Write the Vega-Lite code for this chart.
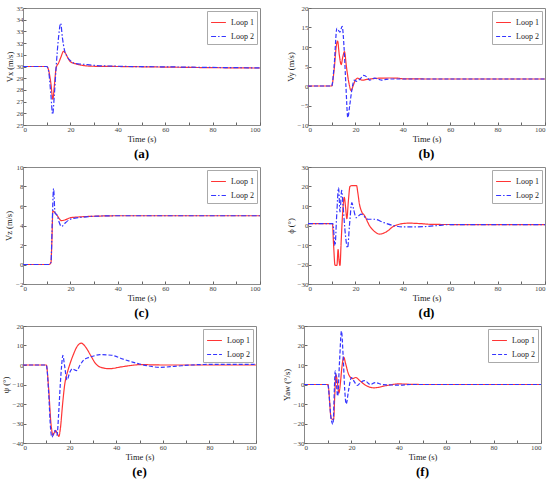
{
  "$schema": "https://vega.github.io/schema/vega-lite/v6.json",
  "padding": {"left": 0, "right": 6, "top": 3, "bottom": 0},
  "config": {
    "font": "Liberation Serif",
    "view": {"stroke": "#888", "strokeWidth": 1},
    "axis": {
      "grid": false,
      "labelFontSize": 7,
      "labelColor": "#444",
      "titleFontSize": 8.5,
      "titleFontWeight": "normal",
      "titleColor": "#222",
      "tickColor": "#666",
      "tickSize": -3,
      "domainColor": "#888",
      "labelPadding": 3,
      "titlePadding": 2
    },
    "legend": {
      "orient": "top-right",
      "offset": 3,
      "strokeColor": "#aaa",
      "padding": 3,
      "labelFontSize": 8,
      "labelColor": "#222",
      "symbolType": "stroke",
      "symbolSize": 220,
      "symbolStrokeWidth": 1.5,
      "rowPadding": 1,
      "fillColor": "white"
    },
    "title": {"orient": "bottom", "fontSize": 13, "fontWeight": "bold", "offset": 5, "color": "#000"},
    "line": {"strokeWidth": 1.2, "interpolate": "monotone"}
  },
  "datasets": {
    "a": [
      {"s": "Loop 1", "t": 0, "v": 30}, {"s": "Loop 1", "t": 10, "v": 30}, {"s": "Loop 1", "t": 10.8, "v": 29.7}, {"s": "Loop 1", "t": 11.8, "v": 28.5}, {"s": "Loop 1", "t": 12.6, "v": 27.2}, {"s": "Loop 1", "t": 13.2, "v": 28.3}, {"s": "Loop 1", "t": 14, "v": 29.9}, {"s": "Loop 1", "t": 15, "v": 30.3}, {"s": "Loop 1", "t": 16, "v": 30.8}, {"s": "Loop 1", "t": 17.1, "v": 31.3}, {"s": "Loop 1", "t": 18, "v": 31.1}, {"s": "Loop 1", "t": 19, "v": 30.7}, {"s": "Loop 1", "t": 20, "v": 30.4}, {"s": "Loop 1", "t": 22, "v": 30.25}, {"s": "Loop 1", "t": 25, "v": 30.1}, {"s": "Loop 1", "t": 30, "v": 30.02}, {"s": "Loop 1", "t": 40, "v": 30}, {"s": "Loop 1", "t": 60, "v": 29.95}, {"s": "Loop 1", "t": 80, "v": 29.9}, {"s": "Loop 1", "t": 100, "v": 29.87},
      {"s": "Loop 2", "t": 0, "v": 30}, {"s": "Loop 2", "t": 10, "v": 30}, {"s": "Loop 2", "t": 10.8, "v": 29.6}, {"s": "Loop 2", "t": 11.8, "v": 27.5}, {"s": "Loop 2", "t": 12.5, "v": 25.9}, {"s": "Loop 2", "t": 13.2, "v": 27.5}, {"s": "Loop 2", "t": 14, "v": 30}, {"s": "Loop 2", "t": 15, "v": 32.5}, {"s": "Loop 2", "t": 15.9, "v": 33.7}, {"s": "Loop 2", "t": 16.6, "v": 32.5}, {"s": "Loop 2", "t": 17.5, "v": 31.4}, {"s": "Loop 2", "t": 18.5, "v": 30.9}, {"s": "Loop 2", "t": 20, "v": 30.5}, {"s": "Loop 2", "t": 22, "v": 30.25}, {"s": "Loop 2", "t": 25, "v": 30.2}, {"s": "Loop 2", "t": 30, "v": 30.1}, {"s": "Loop 2", "t": 40, "v": 30.02}, {"s": "Loop 2", "t": 60, "v": 29.97}, {"s": "Loop 2", "t": 80, "v": 29.92}, {"s": "Loop 2", "t": 100, "v": 29.88}
    ],
    "b": [
      {"s": "Loop 1", "t": 0, "v": 0}, {"s": "Loop 1", "t": 10, "v": 0}, {"s": "Loop 1", "t": 11, "v": 4}, {"s": "Loop 1", "t": 12, "v": 10.5}, {"s": "Loop 1", "t": 12.5, "v": 11.5}, {"s": "Loop 1", "t": 13.2, "v": 8}, {"s": "Loop 1", "t": 14, "v": 5.5}, {"s": "Loop 1", "t": 14.7, "v": 7.5}, {"s": "Loop 1", "t": 15.4, "v": 8.8}, {"s": "Loop 1", "t": 16.2, "v": 5}, {"s": "Loop 1", "t": 17.2, "v": 1}, {"s": "Loop 1", "t": 18.2, "v": -1.2}, {"s": "Loop 1", "t": 19, "v": 0}, {"s": "Loop 1", "t": 20, "v": 1.5}, {"s": "Loop 1", "t": 21, "v": 2}, {"s": "Loop 1", "t": 22, "v": 1.7}, {"s": "Loop 1", "t": 23, "v": 1.5}, {"s": "Loop 1", "t": 25, "v": 1.7}, {"s": "Loop 1", "t": 30, "v": 2}, {"s": "Loop 1", "t": 35, "v": 2.05}, {"s": "Loop 1", "t": 38, "v": 2}, {"s": "Loop 1", "t": 40, "v": 1.85}, {"s": "Loop 1", "t": 50, "v": 1.8}, {"s": "Loop 1", "t": 100, "v": 1.8},
      {"s": "Loop 2", "t": 0, "v": 0}, {"s": "Loop 2", "t": 10, "v": 0}, {"s": "Loop 2", "t": 11, "v": 5}, {"s": "Loop 2", "t": 12.2, "v": 14.8}, {"s": "Loop 2", "t": 13.5, "v": 13.8}, {"s": "Loop 2", "t": 14.4, "v": 15.3}, {"s": "Loop 2", "t": 15.2, "v": 10}, {"s": "Loop 2", "t": 16, "v": 0}, {"s": "Loop 2", "t": 16.8, "v": -8.1}, {"s": "Loop 2", "t": 17.6, "v": -5}, {"s": "Loop 2", "t": 18.5, "v": -1}, {"s": "Loop 2", "t": 19.5, "v": 1.5}, {"s": "Loop 2", "t": 20.5, "v": 1.2}, {"s": "Loop 2", "t": 22, "v": 1.8}, {"s": "Loop 2", "t": 23.5, "v": 2.7}, {"s": "Loop 2", "t": 25, "v": 2.2}, {"s": "Loop 2", "t": 26, "v": 1.5}, {"s": "Loop 2", "t": 28, "v": 2}, {"s": "Loop 2", "t": 30, "v": 1.7}, {"s": "Loop 2", "t": 31, "v": 1.5}, {"s": "Loop 2", "t": 33, "v": 1.7}, {"s": "Loop 2", "t": 35, "v": 1.8}, {"s": "Loop 2", "t": 40, "v": 1.8}, {"s": "Loop 2", "t": 100, "v": 1.8}
    ],
    "c": [
      {"s": "Loop 1", "t": 0, "v": 0}, {"s": "Loop 1", "t": 11, "v": 0}, {"s": "Loop 1", "t": 11.8, "v": 0.2}, {"s": "Loop 1", "t": 12.2, "v": 2.5}, {"s": "Loop 1", "t": 12.6, "v": 5.5}, {"s": "Loop 1", "t": 13.5, "v": 5.3}, {"s": "Loop 1", "t": 14.5, "v": 5}, {"s": "Loop 1", "t": 15.3, "v": 4.7}, {"s": "Loop 1", "t": 16.2, "v": 4.5}, {"s": "Loop 1", "t": 18, "v": 4.6}, {"s": "Loop 1", "t": 20, "v": 4.8}, {"s": "Loop 1", "t": 22, "v": 4.85}, {"s": "Loop 1", "t": 25, "v": 4.9}, {"s": "Loop 1", "t": 30, "v": 4.95}, {"s": "Loop 1", "t": 40, "v": 5}, {"s": "Loop 1", "t": 100, "v": 5},
      {"s": "Loop 2", "t": 0, "v": 0}, {"s": "Loop 2", "t": 11, "v": 0}, {"s": "Loop 2", "t": 11.8, "v": 0.2}, {"s": "Loop 2", "t": 12.3, "v": 4}, {"s": "Loop 2", "t": 12.9, "v": 7.8}, {"s": "Loop 2", "t": 13.5, "v": 5.3}, {"s": "Loop 2", "t": 14.5, "v": 5}, {"s": "Loop 2", "t": 15.3, "v": 4.3}, {"s": "Loop 2", "t": 16.2, "v": 3.9}, {"s": "Loop 2", "t": 18, "v": 4.3}, {"s": "Loop 2", "t": 20, "v": 4.65}, {"s": "Loop 2", "t": 22, "v": 4.75}, {"s": "Loop 2", "t": 25, "v": 4.85}, {"s": "Loop 2", "t": 30, "v": 4.95}, {"s": "Loop 2", "t": 40, "v": 5}, {"s": "Loop 2", "t": 100, "v": 5}
    ],
    "d": [
      {"s": "Loop 1", "t": 0, "v": 1}, {"s": "Loop 1", "t": 10.3, "v": 1}, {"s": "Loop 1", "t": 10.8, "v": -10}, {"s": "Loop 1", "t": 11.4, "v": -20.4}, {"s": "Loop 1", "t": 12.2, "v": -20.5}, {"s": "Loop 1", "t": 12.7, "v": -12.3}, {"s": "Loop 1", "t": 13.1, "v": -18}, {"s": "Loop 1", "t": 13.5, "v": -20.5}, {"s": "Loop 1", "t": 14, "v": -8}, {"s": "Loop 1", "t": 14.7, "v": 8}, {"s": "Loop 1", "t": 15.3, "v": 14.5}, {"s": "Loop 1", "t": 15.8, "v": 10}, {"s": "Loop 1", "t": 16.4, "v": 3.5}, {"s": "Loop 1", "t": 17, "v": 12}, {"s": "Loop 1", "t": 17.7, "v": 20}, {"s": "Loop 1", "t": 18.5, "v": 20.5}, {"s": "Loop 1", "t": 20.5, "v": 20.4}, {"s": "Loop 1", "t": 21, "v": 17}, {"s": "Loop 1", "t": 21.7, "v": 11}, {"s": "Loop 1", "t": 22.5, "v": 7.5}, {"s": "Loop 1", "t": 23.9, "v": 5}, {"s": "Loop 1", "t": 26, "v": -0.2}, {"s": "Loop 1", "t": 28, "v": -3}, {"s": "Loop 1", "t": 30.2, "v": -4.4}, {"s": "Loop 1", "t": 33, "v": -3.3}, {"s": "Loop 1", "t": 36, "v": -0.5}, {"s": "Loop 1", "t": 39, "v": 0.8}, {"s": "Loop 1", "t": 42.4, "v": 1.2}, {"s": "Loop 1", "t": 47, "v": 1}, {"s": "Loop 1", "t": 52, "v": 0.6}, {"s": "Loop 1", "t": 60, "v": 0.5}, {"s": "Loop 1", "t": 100, "v": 0.5},
      {"s": "Loop 2", "t": 0, "v": 1}, {"s": "Loop 2", "t": 10.5, "v": 1}, {"s": "Loop 2", "t": 11.4, "v": -10.3}, {"s": "Loop 2", "t": 12.1, "v": 5}, {"s": "Loop 2", "t": 12.9, "v": 19.4}, {"s": "Loop 2", "t": 13.5, "v": 7}, {"s": "Loop 2", "t": 14.2, "v": 18}, {"s": "Loop 2", "t": 14.8, "v": 10}, {"s": "Loop 2", "t": 15.8, "v": -5}, {"s": "Loop 2", "t": 16.7, "v": -11.5}, {"s": "Loop 2", "t": 17.5, "v": 0}, {"s": "Loop 2", "t": 18.5, "v": 11.7}, {"s": "Loop 2", "t": 19.3, "v": 8}, {"s": "Loop 2", "t": 20.3, "v": 4}, {"s": "Loop 2", "t": 22.4, "v": 5.8}, {"s": "Loop 2", "t": 25.3, "v": 3.2}, {"s": "Loop 2", "t": 28, "v": 3.2}, {"s": "Loop 2", "t": 32, "v": 1.5}, {"s": "Loop 2", "t": 36, "v": 0}, {"s": "Loop 2", "t": 40, "v": -0.7}, {"s": "Loop 2", "t": 45, "v": -0.7}, {"s": "Loop 2", "t": 50, "v": -0.5}, {"s": "Loop 2", "t": 55, "v": 0}, {"s": "Loop 2", "t": 60, "v": 0.5}, {"s": "Loop 2", "t": 100, "v": 0.5}
    ],
    "e": [
      {"s": "Loop 1", "t": 0, "v": 0}, {"s": "Loop 1", "t": 10, "v": 0}, {"s": "Loop 1", "t": 11, "v": -12}, {"s": "Loop 1", "t": 12, "v": -30}, {"s": "Loop 1", "t": 12.9, "v": -36}, {"s": "Loop 1", "t": 13.5, "v": -34.5}, {"s": "Loop 1", "t": 14, "v": -33.6}, {"s": "Loop 1", "t": 14.8, "v": -35.5}, {"s": "Loop 1", "t": 15.4, "v": -36.6}, {"s": "Loop 1", "t": 16, "v": -33}, {"s": "Loop 1", "t": 17, "v": -20}, {"s": "Loop 1", "t": 17.9, "v": -10}, {"s": "Loop 1", "t": 19, "v": -4}, {"s": "Loop 1", "t": 20, "v": 0}, {"s": "Loop 1", "t": 21.5, "v": 5}, {"s": "Loop 1", "t": 23.5, "v": 10}, {"s": "Loop 1", "t": 25, "v": 11.2}, {"s": "Loop 1", "t": 27, "v": 9}, {"s": "Loop 1", "t": 29, "v": 5}, {"s": "Loop 1", "t": 31, "v": 1}, {"s": "Loop 1", "t": 33, "v": -1}, {"s": "Loop 1", "t": 37, "v": -1.9}, {"s": "Loop 1", "t": 42, "v": -1}, {"s": "Loop 1", "t": 48, "v": 0}, {"s": "Loop 1", "t": 50, "v": 0.2}, {"s": "Loop 1", "t": 60, "v": 0}, {"s": "Loop 1", "t": 100, "v": 0},
      {"s": "Loop 2", "t": 0, "v": 0}, {"s": "Loop 2", "t": 10, "v": 0}, {"s": "Loop 2", "t": 11, "v": -14}, {"s": "Loop 2", "t": 11.8, "v": -32}, {"s": "Loop 2", "t": 12.4, "v": -37}, {"s": "Loop 2", "t": 13.2, "v": -35}, {"s": "Loop 2", "t": 13.8, "v": -33.5}, {"s": "Loop 2", "t": 14.6, "v": -36}, {"s": "Loop 2", "t": 15.3, "v": -25}, {"s": "Loop 2", "t": 16, "v": -10}, {"s": "Loop 2", "t": 16.6, "v": 0}, {"s": "Loop 2", "t": 17.1, "v": 5}, {"s": "Loop 2", "t": 17.8, "v": 0}, {"s": "Loop 2", "t": 18.9, "v": -7.7}, {"s": "Loop 2", "t": 20, "v": -4}, {"s": "Loop 2", "t": 21.1, "v": -2}, {"s": "Loop 2", "t": 23, "v": -2.9}, {"s": "Loop 2", "t": 24.5, "v": 0}, {"s": "Loop 2", "t": 26, "v": 2.5}, {"s": "Loop 2", "t": 28, "v": 3.8}, {"s": "Loop 2", "t": 30, "v": 4.5}, {"s": "Loop 2", "t": 33, "v": 5.3}, {"s": "Loop 2", "t": 38, "v": 5}, {"s": "Loop 2", "t": 43, "v": 3}, {"s": "Loop 2", "t": 47, "v": 1.5}, {"s": "Loop 2", "t": 50, "v": 0.5}, {"s": "Loop 2", "t": 54, "v": -0.5}, {"s": "Loop 2", "t": 58.6, "v": -1.2}, {"s": "Loop 2", "t": 65, "v": -0.7}, {"s": "Loop 2", "t": 72, "v": 0}, {"s": "Loop 2", "t": 80, "v": 0.3}, {"s": "Loop 2", "t": 100, "v": 0.3}
    ],
    "f": [
      {"s": "Loop 1", "t": 0, "v": 0}, {"s": "Loop 1", "t": 10.1, "v": 0}, {"s": "Loop 1", "t": 11.5, "v": -17.5}, {"s": "Loop 1", "t": 12.5, "v": -18}, {"s": "Loop 1", "t": 13, "v": -5}, {"s": "Loop 1", "t": 13.5, "v": 5}, {"s": "Loop 1", "t": 14, "v": 2}, {"s": "Loop 1", "t": 14.7, "v": -4.4}, {"s": "Loop 1", "t": 15.3, "v": 0}, {"s": "Loop 1", "t": 16, "v": 9}, {"s": "Loop 1", "t": 16.8, "v": 14}, {"s": "Loop 1", "t": 17.5, "v": 11}, {"s": "Loop 1", "t": 18.9, "v": 5}, {"s": "Loop 1", "t": 20.5, "v": 3}, {"s": "Loop 1", "t": 21.8, "v": 3.6}, {"s": "Loop 1", "t": 23.5, "v": 2}, {"s": "Loop 1", "t": 25.5, "v": 0}, {"s": "Loop 1", "t": 29.6, "v": -1.7}, {"s": "Loop 1", "t": 35, "v": -0.5}, {"s": "Loop 1", "t": 40, "v": 0.3}, {"s": "Loop 1", "t": 45, "v": 0.1}, {"s": "Loop 1", "t": 50, "v": 0}, {"s": "Loop 1", "t": 100, "v": 0},
      {"s": "Loop 2", "t": 0, "v": 0}, {"s": "Loop 2", "t": 10, "v": 0}, {"s": "Loop 2", "t": 11.5, "v": -18}, {"s": "Loop 2", "t": 12.2, "v": -20.4}, {"s": "Loop 2", "t": 13.2, "v": 7}, {"s": "Loop 2", "t": 14.2, "v": -6}, {"s": "Loop 2", "t": 15, "v": 12}, {"s": "Loop 2", "t": 15.8, "v": 27.4}, {"s": "Loop 2", "t": 16.5, "v": 15}, {"s": "Loop 2", "t": 17.2, "v": -3}, {"s": "Loop 2", "t": 17.8, "v": -10}, {"s": "Loop 2", "t": 18.8, "v": -3}, {"s": "Loop 2", "t": 20, "v": 3.6}, {"s": "Loop 2", "t": 21.2, "v": 1.5}, {"s": "Loop 2", "t": 22.5, "v": -0.5}, {"s": "Loop 2", "t": 24, "v": 1.2}, {"s": "Loop 2", "t": 25.6, "v": 2}, {"s": "Loop 2", "t": 28, "v": 0}, {"s": "Loop 2", "t": 30, "v": 1}, {"s": "Loop 2", "t": 33, "v": 0}, {"s": "Loop 2", "t": 40, "v": -0.3}, {"s": "Loop 2", "t": 45, "v": 0}, {"s": "Loop 2", "t": 100, "v": 0}
    ]
  },
  "vconcat": [
    {
      "spacing": 22,
      "resolve": {"scale": {"color": "independent", "strokeDash": "independent"}, "legend": {"color": "independent", "strokeDash": "independent"}},
      "hconcat": [
        {
          "width": 237, "height": 117,
          "data": {"name": "a"},
          "title": "(a)",
          "mark": "line",
          "encoding": {
            "x": {"field": "t", "type": "quantitative", "title": "Time (s)", "scale": {"domain": [0, 100], "nice": false}, "axis": {"values": [0, 10, 20, 30, 40, 50, 60, 70, 80, 90, 100], "labelExpr": "datum.value % 20 == 0 ? datum.label : ''"}},
            "y": {"field": "v", "type": "quantitative", "title": "Vx (m/s)", "scale": {"domain": [25, 35], "nice": false, "zero": false}, "axis": {"values": [25, 26, 27, 28, 29, 30, 31, 32, 33, 34, 35]}},
            "color": {"field": "s", "type": "nominal", "title": null, "scale": {"domain": ["Loop 1", "Loop 2"], "range": ["#ff3535", "#3535ff"]}, "legend": {"orient": "top-right"}},
            "strokeDash": {"field": "s", "type": "nominal", "title": null, "scale": {"domain": ["Loop 1", "Loop 2"], "range": [[1, 0], [5, 2, 1.5, 2]]}, "legend": {"orient": "top-right"}}
          }
        },
        {
          "width": 237, "height": 117,
          "data": {"name": "b"},
          "title": "(b)",
          "mark": "line",
          "encoding": {
            "x": {"field": "t", "type": "quantitative", "title": "Time (s)", "scale": {"domain": [0, 100], "nice": false}, "axis": {"values": [0, 10, 20, 30, 40, 50, 60, 70, 80, 90, 100], "labelExpr": "datum.value % 20 == 0 ? datum.label : ''"}},
            "y": {"field": "v", "type": "quantitative", "title": "Vy (m/s)", "scale": {"domain": [-10, 20], "nice": false}, "axis": {"values": [-10, -5, 0, 5, 10, 15, 20]}},
            "color": {"field": "s", "type": "nominal", "title": null, "scale": {"domain": ["Loop 1", "Loop 2"], "range": ["#ff3535", "#3535ff"]}, "legend": {"orient": "top-right"}},
            "strokeDash": {"field": "s", "type": "nominal", "title": null, "scale": {"domain": ["Loop 1", "Loop 2"], "range": [[1, 0], [4, 2]]}, "legend": {"orient": "top-right"}}
          }
        }
      ]
    },
    {
      "spacing": 22,
      "resolve": {"scale": {"color": "independent", "strokeDash": "independent"}, "legend": {"color": "independent", "strokeDash": "independent"}},
      "hconcat": [
        {
          "width": 237, "height": 117,
          "data": {"name": "c"},
          "title": "(c)",
          "mark": "line",
          "encoding": {
            "x": {"field": "t", "type": "quantitative", "title": "Time (s)", "scale": {"domain": [0, 100], "nice": false}, "axis": {"values": [0, 10, 20, 30, 40, 50, 60, 70, 80, 90, 100], "labelExpr": "datum.value % 20 == 0 ? datum.label : ''"}},
            "y": {"field": "v", "type": "quantitative", "title": "Vz (m/s)", "scale": {"domain": [-2, 10], "nice": false}, "axis": {"values": [-2, 0, 2, 4, 6, 8, 10]}},
            "color": {"field": "s", "type": "nominal", "title": null, "scale": {"domain": ["Loop 1", "Loop 2"], "range": ["#ff3535", "#3535ff"]}, "legend": {"orient": "top-right"}},
            "strokeDash": {"field": "s", "type": "nominal", "title": null, "scale": {"domain": ["Loop 1", "Loop 2"], "range": [[1, 0], [5, 2, 1.5, 2]]}, "legend": {"orient": "top-right"}}
          }
        },
        {
          "width": 237, "height": 117,
          "data": {"name": "d"},
          "title": "(d)",
          "mark": "line",
          "encoding": {
            "x": {"field": "t", "type": "quantitative", "title": "Time (s)", "scale": {"domain": [0, 100], "nice": false}, "axis": {"values": [0, 10, 20, 30, 40, 50, 60, 70, 80, 90, 100], "labelExpr": "datum.value % 20 == 0 ? datum.label : ''"}},
            "y": {"field": "v", "type": "quantitative", "title": "ϕ (°)", "scale": {"domain": [-30, 30], "nice": false}, "axis": {"values": [-30, -20, -10, 0, 10, 20, 30]}},
            "color": {"field": "s", "type": "nominal", "title": null, "scale": {"domain": ["Loop 1", "Loop 2"], "range": ["#ff3535", "#3535ff"]}, "legend": {"orient": "top-right"}},
            "strokeDash": {"field": "s", "type": "nominal", "title": null, "scale": {"domain": ["Loop 1", "Loop 2"], "range": [[1, 0], [5, 2, 1.5, 2]]}, "legend": {"orient": "top-right"}}
          }
        }
      ]
    },
    {
      "spacing": 22,
      "resolve": {"scale": {"color": "independent", "strokeDash": "independent"}, "legend": {"color": "independent", "strokeDash": "independent"}},
      "hconcat": [
        {
          "width": 233, "height": 117,
          "data": {"name": "e"},
          "title": "(e)",
          "mark": "line",
          "encoding": {
            "x": {"field": "t", "type": "quantitative", "title": "Time (s)", "scale": {"domain": [0, 100], "nice": false}, "axis": {"values": [0, 10, 20, 30, 40, 50, 60, 70, 80, 90, 100], "labelExpr": "datum.value % 20 == 0 ? datum.label : ''"}},
            "y": {"field": "v", "type": "quantitative", "title": "ψ (°)", "scale": {"domain": [-40, 20], "nice": false}, "axis": {"values": [-40, -30, -20, -10, 0, 10, 20]}},
            "color": {"field": "s", "type": "nominal", "title": null, "scale": {"domain": ["Loop 1", "Loop 2"], "range": ["#ff3535", "#3535ff"]}, "legend": {"orient": "top-right"}},
            "strokeDash": {"field": "s", "type": "nominal", "title": null, "scale": {"domain": ["Loop 1", "Loop 2"], "range": [[1, 0], [4, 2]]}, "legend": {"orient": "top-right"}}
          }
        },
        {
          "width": 237, "height": 117,
          "data": {"name": "f"},
          "title": "(f)",
          "mark": "line",
          "encoding": {
            "x": {"field": "t", "type": "quantitative", "title": "Time (s)", "scale": {"domain": [0, 100], "nice": false}, "axis": {"values": [0, 10, 20, 30, 40, 50, 60, 70, 80, 90, 100], "labelExpr": "datum.value % 20 == 0 ? datum.label : ''"}},
            "y": {"field": "v", "type": "quantitative", "title": "Yaw (°/s)", "scale": {"domain": [-30, 30], "nice": false}, "axis": {"values": [-30, -20, -10, 0, 10, 20, 30]}},
            "color": {"field": "s", "type": "nominal", "title": null, "scale": {"domain": ["Loop 1", "Loop 2"], "range": ["#ff3535", "#3535ff"]}, "legend": {"orient": "top-right"}},
            "strokeDash": {"field": "s", "type": "nominal", "title": null, "scale": {"domain": ["Loop 1", "Loop 2"], "range": [[1, 0], [4, 2]]}, "legend": {"orient": "top-right"}}
          }
        }
      ]
    }
  ],
  "spacing": 1
}
